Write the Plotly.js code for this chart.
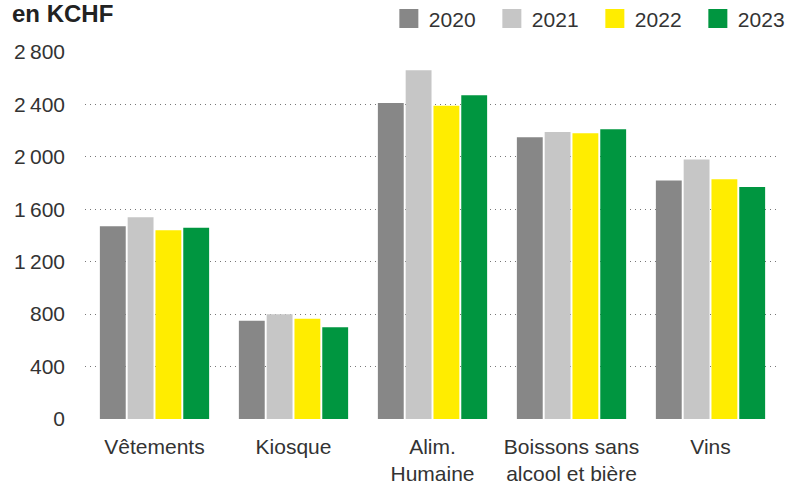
<!DOCTYPE html>
<html>
<head>
<meta charset="utf-8">
<script src="https://cdn.plot.ly/plotly-3.0.1.min.js"></script>
<style>
  html, body { margin: 0; padding: 0; background: #fff; }
  #chart { width: 789px; height: 493px; }
</style>
</head>
<body>
<div id="chart"></div>
<script>
// categories and yearly values in KCHF
var categories = ["Vêtements", "Kiosque", "Alim.<br>Humaine", "Boissons sans<br>alcool et bière", "Vins"];
var years = ["2020", "2021", "2022", "2023"];
var values2020 = [1470, 750, 2410, 2150, 1820];
var values2021 = [1540, 800, 2660, 2190, 1980];
var values2022 = [1440, 765, 2390, 2180, 1830];
var values2023 = [1460, 700, 2470, 2210, 1770];
var yTicks = [0, 400, 800, 1200, 1600, 2000, 2400, 2800];

var colors = ["#878787", "#c6c6c6", "#ffed00", "#009640"];
var series = [values2020, values2021, values2022, values2023];
var font = "Liberation Sans Narrow, Arial Narrow, Liberation Sans, sans-serif";

var data = series.map(function (vals, i) {
  return {
    x: categories,
    y: vals,
    name: years[i],
    type: "bar",
    marker: { color: colors[i] },
    hoverinfo: "none"
  };
});

var layout = {
  width: 789,
  height: 493,
  margin: { l: 85, r: 9, t: 52, b: 74, autoexpand: false },
  paper_bgcolor: "#fff",
  plot_bgcolor: "#fff",
  font: { family: font, size: 21, color: "#333" },
  separators: ",\u2009",
  barmode: "group",
  bargap: 0.2,
  bargroupgap: 0.07,
  showlegend: true,
  legend: {
    orientation: "h",
    entrywidth: 58,
    entrywidthmode: "pixels",
    x: 1.03, xanchor: "right",
    y: 1.09, yanchor: "middle",
    font: { family: font, size: 21, color: "#333" },
    itemclick: false
  },
  xaxis: {
    type: "category",
    showgrid: false,
    showline: false,
    zeroline: false,
    ticks: "",
    ticklabelstandoff: 13,
    tickfont: { family: font, size: 21, color: "#333" }
  },
  yaxis: {
    range: [0, 2800],
    tickvals: yTicks,
    separatethousands: true,
    showgrid: true,
    gridcolor: "#777",
    griddash: "1px,4px",
    gridwidth: 1,
    zeroline: false,
    showline: false,
    ticks: "",
    ticklabelstandoff: 19,
    tickfont: { family: font, size: 21, color: "#333" }
  },
  annotations: [{
    text: "<b>en KCHF</b>",
    xref: "paper", yref: "paper",
    x: -0.108, xanchor: "left",
    y: 1.104, yanchor: "middle",
    showarrow: false,
    font: { family: font, size: 24, color: "#222" }
  }]
};

Plotly.newPlot("chart", data, layout, { displayModeBar: false, staticPlot: true }).then(function () {
  // bigger square legend swatches like the reference
  document.querySelectorAll(".legendpoints path").forEach(function (p) {
    p.setAttribute("d", "M9.5,9.5H-9.5V-9.5H9.5Z");
  });
});
</script>
</body>
</html>
